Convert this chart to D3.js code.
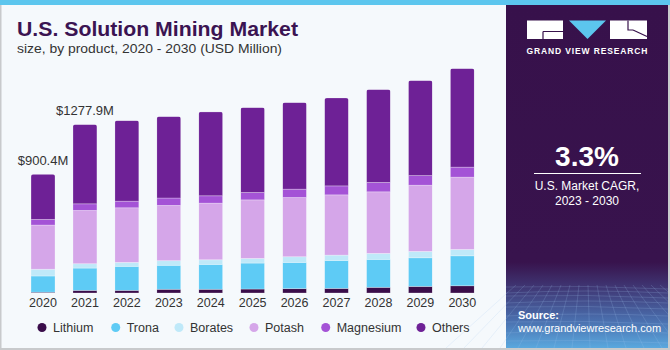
<!DOCTYPE html>
<html><head><meta charset="utf-8">
<script src="https://cdn.jsdelivr.net/npm/d3@7/dist/d3.min.js"></script>
<style>
html,body{margin:0;padding:0;background:#fff;}
svg{display:block;font-family:"Liberation Sans",Arial,sans-serif;}
</style></head>
<body>
<svg id="chart" width="670" height="350"></svg>
<script>
const years = ["2020","2021","2022","2023","2024","2025","2026","2027","2028","2029","2030"];
const lithium   = [6, 20, 20, 28, 28, 30, 33, 35, 43, 50, 55];
const trona     = [123, 169, 182, 182, 189, 197, 199, 212, 212, 217, 227];
const borates   = [51, 33, 30, 35, 35, 35, 43, 40, 45, 48, 48];
const potash    = [335, 404, 414, 419, 429, 444, 449, 457, 467, 502, 548];
const magnesium = [43, 50, 50, 56, 56, 56, 63, 68, 71, 73, 76];
const others    = [342.4, 601.9, 611, 618, 636, 644, 657, 667, 705, 721, 748];
const seriesNames = ["Lithium","Trona","Borates","Potash","Magnesium","Others"];
const seriesColors = ["#3a0d4a","#5ecbf5","#bfe9f9","#d5a6e9","#a453d6","#6e2196"];
const annotations = [{year:"2020", label:"$900.4M"},{year:"2021", label:"$1277.9M"}];

const svg = d3.select("#chart");
const W = 670, H = 350;

// background & frame
svg.append("rect").attr("x",0).attr("y",0).attr("width",W).attr("height",H).attr("fill","#f5f9fc");
svg.append("rect").attr("x",0).attr("y",0).attr("width",W).attr("height",5).attr("fill","#5cc6ee");

// right panel
const defs = svg.append("defs");
const pg = defs.append("linearGradient").attr("id","pgrad").attr("x1",0).attr("y1",0).attr("x2",0).attr("y2",1);
pg.append("stop").attr("offset","0").attr("stop-color","#37114b");
pg.append("stop").attr("offset","0.75").attr("stop-color","#38134d");
pg.append("stop").attr("offset","0.82").attr("stop-color","#3f3572");
pg.append("stop").attr("offset","0.92").attr("stop-color","#4a6fae");
pg.append("stop").attr("offset","1").attr("stop-color","#5aa8de");
const px0 = 506, px1 = 668;
svg.append("rect").attr("x",px0).attr("y",5).attr("width",px1-px0).attr("height",343).attr("fill","url(#pgrad)");
// grid pattern at bottom of panel
const gridG = svg.append("g").attr("stroke","#9fc6ee").attr("stroke-opacity",0.28).attr("stroke-width",0.7).attr("fill","none");
const hLines = [288,292,297,302,308,315,323,332,342];
hLines.forEach((y,i)=>{
  gridG.append("path").attr("d",`M${px0},${y+ (i%2?1:-1)} Q${(px0+px1)/2},${y-3} ${px1},${y+1}`);
});
for(let i=0;i<=16;i++){
  const xb = px0 - 60 + i*18;
  const xt = px0 + 10 + i*9;
  gridG.append("line").attr("x1",xt).attr("y1",285).attr("x2",xb).attr("y2",348);
}

// frame borders
svg.append("rect").attr("x",0).attr("y",5).attr("width",1.5).attr("height",H-5).attr("fill","#c8cacc");
svg.append("rect").attr("x",0).attr("y",H-2).attr("width",W).attr("height",2).attr("fill","#c8cacc");
svg.append("rect").attr("x",W-2).attr("y",5).attr("width",2).attr("height",H-5).attr("fill","#c8cacc");

// title
svg.append("text").attr("x",17).attr("y",36).attr("fill","#3b1452")
  .attr("font-size",20).attr("font-weight","bold").attr("textLength",281).attr("lengthAdjust","spacingAndGlyphs")
  .text("U.S. Solution Mining Market");
svg.append("text").attr("x",17).attr("y",53).attr("fill","#333")
  .attr("font-size",13).attr("textLength",265).attr("lengthAdjust","spacingAndGlyphs")
  .text("size, by product, 2020 - 2030 (USD Million)");

// scales
const x = d3.scaleBand().domain(years).range([31,474.3]).paddingInner(0.427).paddingOuter(0);
const y = d3.scaleLinear().domain([0,1800]).range([293,293-1800/7.58]);

const table = years.map((yr,i)=>({year:yr, Lithium:lithium[i], Trona:trona[i], Borates:borates[i], Potash:potash[i], Magnesium:magnesium[i], Others:others[i]}));
const stack = d3.stack().keys(seriesNames)(table);

// clip paths for rounded tops
table.forEach((d,i)=>{
  const tot = seriesNames.reduce((s,k)=>s+d[k],0);
  defs.append("clipPath").attr("id","clip"+i).append("rect")
    .attr("x",x(d.year)).attr("y",y(tot)).attr("width",x.bandwidth()).attr("height",y(0)-y(tot)+5).attr("rx",2.5);
});

const barsG = svg.append("g");
stack.forEach((s,si)=>{
  s.forEach((seg,i)=>{
    barsG.append("rect")
      .attr("clip-path",`url(#clip${i})`)
      .attr("x",x(years[i])).attr("y",y(seg[1])).attr("width",x.bandwidth()).attr("height",y(seg[0])-y(seg[1]))
      .attr("fill",seriesColors[si]).attr("stroke","#ffffff").attr("stroke-opacity",0.35).attr("stroke-width",0.8);
  });
});

// x axis
const xAxis = d3.axisBottom(x).tickSize(0).tickPadding(5);
const ax = svg.append("g").attr("transform","translate(0,293)").call(xAxis);
ax.select(".domain").remove();
ax.selectAll("text").attr("font-size",12.5).attr("fill","#333").attr("font-family","Liberation Sans, Arial, sans-serif").attr("dy","0.71em");

// annotations
annotations.forEach(a=>{
  const i = years.indexOf(a.year);
  const tot = seriesNames.reduce((s,k)=>s+table[i][k],0);
  svg.append("text").attr("x",x(a.year)+x.bandwidth()/2).attr("y",y(tot)-9)
    .attr("text-anchor","middle").attr("font-size",13).attr("fill","#333").text(a.label);
});

// legend
const legendX = [42,115.7,179,254,325.7,421];
const lg = svg.append("g");
seriesNames.forEach((n,i)=>{
  lg.append("circle").attr("cx",legendX[i]).attr("cy",327.5).attr("r",4.5).attr("fill",seriesColors[i]);
  lg.append("text").attr("x",legendX[i]+11).attr("y",331.5).attr("font-size",12.5).attr("fill","#333").text(n);
});

// logo
const logo = svg.append("g");
logo.append("rect").attr("x",527).attr("y",20.5).attr("width",36).attr("height",18.5).attr("fill","#fff");
logo.append("path").attr("d","M543,31.5 H563 M543,31.5 V39").attr("stroke","#37114b").attr("stroke-width",1.2).attr("fill","none");
logo.append("path").attr("d","M569,20.5 L606,20.5 L587.5,39 Z").attr("fill","#5cc6ee");
logo.append("rect").attr("x",610).attr("y",20.5).attr("width",37).attr("height",18.5).attr("fill","#fff");
logo.append("path").attr("d","M633,30 L647,36.5").attr("stroke","#37114b").attr("stroke-width",1.2);
logo.append("path").attr("d","M628,20.5 V30 H633").attr("stroke","#37114b").attr("stroke-width",1.2).attr("fill","none");
svg.append("text").attr("x",587).attr("y",54).attr("text-anchor","middle").attr("fill","#fff")
  .attr("font-size",8.5).attr("font-weight","bold").attr("textLength",121).attr("lengthAdjust","spacing")
  .text("GRAND VIEW RESEARCH");

// CAGR
svg.append("text").attr("x",587).attr("y",165.5).attr("text-anchor","middle").attr("fill","#fff")
  .attr("font-size",28).attr("font-weight","bold").text("3.3%");
svg.append("line").attr("x1",534).attr("x2",641).attr("y1",173.5).attr("y2",173.5).attr("stroke","#fff").attr("stroke-width",1);
svg.append("text").attr("x",587).attr("y",190).attr("text-anchor","middle").attr("fill","#fff").attr("font-size",12).text("U.S. Market CAGR,");
svg.append("text").attr("x",587).attr("y",204.5).attr("text-anchor","middle").attr("fill","#fff").attr("font-size",12).text("2023 - 2030");

// source
svg.append("text").attr("x",518).attr("y",319).attr("fill","#fff").attr("font-size",11).attr("font-weight","bold").text("Source:");
svg.append("text").attr("x",518).attr("y",332).attr("fill","#fff").attr("font-size",11).text("www.grandviewresearch.com");
</script>
</body></html>
